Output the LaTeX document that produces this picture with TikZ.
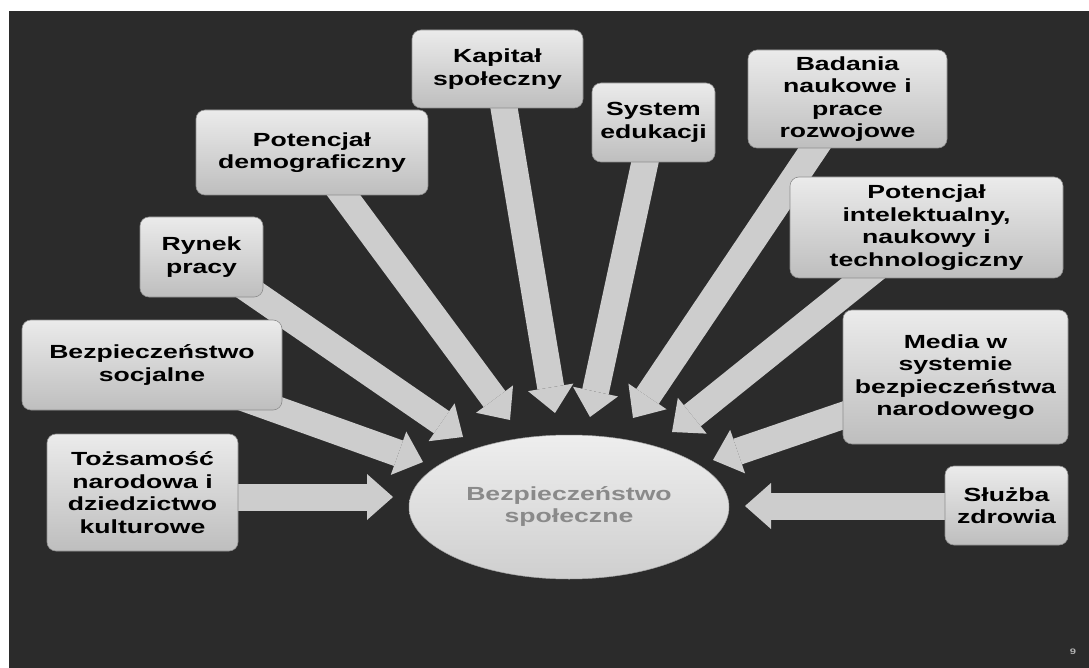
\documentclass[tikz,border=0pt]{standalone}
\usepackage{fontspec}
\setmainfont{Liberation Sans}[FakeStretch=1.4]
\usetikzlibrary{shapes.geometric,arrows.meta,calc}
\pgfdeclarelayer{bg}
\pgfdeclarelayer{arrowlayer}
\pgfsetlayers{bg,arrowlayer,main}
\definecolor{bgdark}{HTML}{2B2B2B}
\definecolor{boxtop}{HTML}{EBEBEB}
\definecolor{boxbot}{HTML}{BEBEBE}
\definecolor{boxedge}{HTML}{8E8E8E}
\definecolor{arrowgray}{HTML}{CDCDCD}
\definecolor{elltop}{HTML}{EEEEEE}
\definecolor{ellbot}{HTML}{CFCFCF}
\definecolor{elltext}{HTML}{8A8A8A}
\tikzset{
  box/.style={draw=boxedge, line width=0.6pt, rounded corners=9pt,
    top color=boxtop, bottom color=boxbot, text=black, align=center,
    inner sep=0pt, font=\bfseries\fontsize{19}{22.5}\selectfont},
  blockarrow/.style={draw=arrowgray, line width=27pt,
    -{Triangle[length=26pt,width=46pt,line width=0pt]}},
  centre/.style={ellipse, draw=ellbot!80!black, line width=0.5pt,
    top color=elltop, bottom color=ellbot, text=elltext, align=center,
    inner sep=0pt, font=\bfseries\fontsize{19}{22}\selectfont},
}
\begin{document}
\begin{tikzpicture}[x=1pt,y=-1pt]
\useasboundingbox (0,0) rectangle (1089,668);
\begin{pgfonlayer}{bg}
  \fill[white] (0,0) rectangle (1089,668);
  \fill[bgdark] (9,11) rectangle (1089,668);
\end{pgfonlayer}

% boxes
\node[box, minimum width=171, minimum height=78] (kap) at (497.5,69) {Kapitał\\społeczny};
\node[box, minimum width=232, minimum height=85] (demo) at (312,152.5) {Potencjał\\demograficzny};
\node[box, minimum width=123, minimum height=79] (edu) at (653.5,122.5) {System\\edukacji};
\node[box, minimum width=199, minimum height=98] (bad) at (847.5,99) {Badania\\naukowe i\\prace\\rozwojowe};
\node[box, minimum width=273, minimum height=101] (intel) at (926.5,227.5) {Potencjał\\intelektualny,\\naukowy i\\technologiczny};
\node[box, minimum width=123, minimum height=80] (rynek) at (201.5,257) {Rynek\\pracy};
\node[box, minimum width=260, minimum height=90] (socj) at (152,365) {Bezpieczeństwo\\socjalne};
\node[box, minimum width=225, minimum height=134] (media) at (955.5,377) {Media w\\systemie\\bezpieczeństwa\\narodowego};
\node[box, minimum width=191, minimum height=117] (tozs) at (142.5,492.5) {Tożsamość\\narodowa i\\dziedzictwo\\kulturowe};
\node[box, minimum width=123, minimum height=79] (zdrow) at (1006.5,505.5) {Służba\\zdrowia};

% centre
\node[centre, minimum width=320, minimum height=144] (bs) at (569,507) {Bezpieczeństwo\\społeczne};

% arrow tips
\coordinate (pTozs) at (393,497);
\coordinate (pZdrow) at (745,506);
\coordinate (pSocj) at (423,462);
\coordinate (pRynek) at (463,437);
\coordinate (pDemo) at (510,420);
\coordinate (pKap) at (555,413);
\coordinate (pEdu) at (590,417);
\coordinate (pBad) at (633,418);
\coordinate (pIntel) at (672,432);
\coordinate (pMedia) at (713,460);

\begin{pgfonlayer}{arrowlayer}
  \draw[blockarrow] (tozs.center |- pTozs) -- (pTozs);
  \draw[blockarrow] (zdrow.center |- pZdrow) -- (pZdrow);
  \draw[blockarrow] (socj.center) -- (pSocj);
  \draw[blockarrow] (rynek.center) -- (pRynek);
  \draw[blockarrow] (demo.center) -- (pDemo);
  \draw[blockarrow] (kap.center) -- (pKap);
  \draw[blockarrow] (edu.center) -- (pEdu);
  \draw[blockarrow] (bad.center) -- (pBad);
  \draw[blockarrow] (intel.center) -- (pIntel);
  \draw[blockarrow] (media.center) -- (pMedia);
\end{pgfonlayer}

\node[text=gray!60, font=\bfseries\fontsize{8}{9}\selectfont] (pnum) at (1073,652) {9};
\end{tikzpicture}
\end{document}
